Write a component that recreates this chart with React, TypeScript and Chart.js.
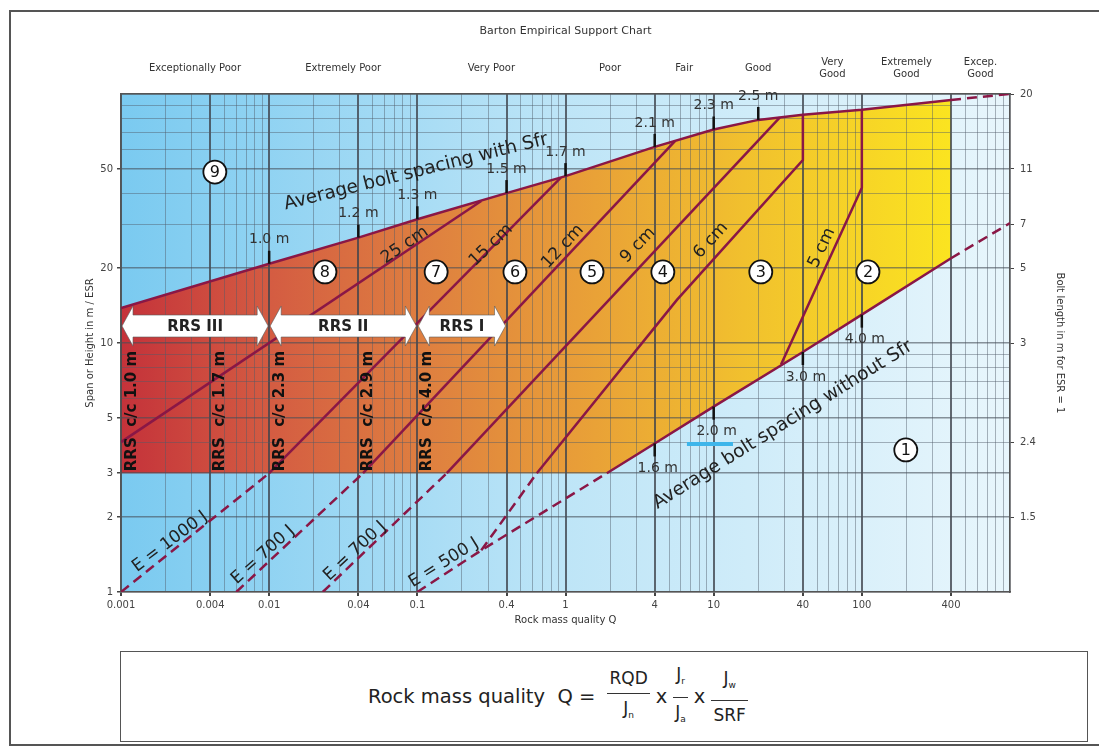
import React, { useEffect, useRef } from 'react';
import { Chart, registerables } from 'chart.js';

Chart.register(...registerables);

// ---------- axes ----------
const Q_MIN = 0.001;
const Q_MAX = 1000;
const SPAN_MIN = 1;
const SPAN_MAX = 100;

const Q_TICKS = [0.001, 0.004, 0.01, 0.04, 0.1, 0.4, 1, 4, 10, 40, 100, 400];
const Q_TICK_LABELS = ['0.001', '0.004', '0.01', '0.04', '0.1', '0.4', '1', '4', '10', '40', '100', '400'];
const SPAN_TICKS = [1, 2, 3, 5, 10, 20, 50];
const SPAN_TICK_LABELS = ['1', '2', '3', '5', '10', '20', '50'];
const BOLT_TICK_SPANS = [2, 4, 10, 20, 30, 50, 100];
const BOLT_TICK_LABELS = ['1.5', '2.4', '3', '5', '7', '11', '20'];
const CLASS_CENTERS = [0.00316, 0.0316, 0.316, 2, 6.32, 20, 63.2, 200, 632];
const CLASS_LABELS: (string | string[])[] = [
  'Exceptionally Poor', 'Extremely Poor', 'Very Poor', 'Poor', 'Fair', 'Good',
  ['Very', 'Good'], ['Extremely', 'Good'], ['Excep.', 'Good'],
];

// ---------- boundary lines ----------
const WITH_SFR_Q = [0.001, 0.01, 0.04, 0.1, 0.4, 1, 4, 10, 20, 40, 100, 400];
const WITH_SFR_SPAN = [13.8, 20.8, 26.5, 31.4, 40, 46.8, 61.3, 72, 78.7, 82.5, 86.5, 94.7];
const WITH_SFR_EXT_Q = [400, 1000];
const WITH_SFR_EXT_SPAN = [94.7, 100];
const WITH_SFR_TICK_Q = [0.01, 0.04, 0.1, 0.4, 1, 4, 10, 20];
const WITH_SFR_TICK_LABELS = ['1.0 m', '1.2 m', '1.3 m', '1.5 m', '1.7 m', '2.1 m', '2.3 m', '2.5 m'];

const WITHOUT_SFR_Q = [1.9, 4, 10, 40, 100, 400];
const WITHOUT_SFR_SPAN = [3, 3.95, 5.55, 9.2, 13.0, 21.9];
const WITHOUT_SFR_LOW_Q = [0.1, 0.27, 1.9];
const WITHOUT_SFR_LOW_SPAN = [1, 1.47, 3];
const WITHOUT_SFR_EXT_Q = [400, 1000];
const WITHOUT_SFR_EXT_SPAN = [21.9, 30.3];
const WITHOUT_SFR_TICK_Q = [4, 10, 40, 100];
const WITHOUT_SFR_TICK_LABELS = ['1.6 m', '2.0 m', '3.0 m', '4.0 m'];

const REGION_BASE_SPAN = 3;

// ---------- shotcrete / energy lines ----------
const SC25_Q = [0.001, 0.27];
const SC25_SPAN = [4, 37.2];
const SC15_Q = [0.01, 0.93];
const SC15_SPAN = [3, 46.2];
const SC12_Q = [0.043, 5.5];
const SC12_SPAN = [3, 64.8];
const SC9_Q = [0.158, 28];
const SC9_SPAN = [3, 80.5];
const SC6_Q = [0.64, 5.65, 40, 40];
const SC6_SPAN = [3, 14.9, 54.3, 82.5];
const SC5_Q = [28.5, 100, 100];
const SC5_SPAN = [8.2, 42, 86.5];
const E1000_Q = [0.001, 0.01];
const E1000_SPAN = [1, 3];
const E700A_Q = [0.006, 0.043];
const E700A_SPAN = [1, 3];
const E700B_Q = [0.023, 0.158];
const E700B_SPAN = [1, 3];
const E500_BRANCH_Q = [0.27, 0.64];
const E500_BRANCH_SPAN = [1.47, 3];
const BLUE_MARK_Q = [6.6, 13.5];
const BLUE_MARK_SPAN = [3.93, 3.93];

// ---------- annotations (data coordinates) ----------
const REGION_NUMBERS = ['1', '2', '3', '4', '5', '6', '7', '8', '9'];
const REGION_Q = [198, 110, 20.8, 4.54, 1.51, 0.456, 0.134, 0.0238, 0.0043];
const REGION_SPAN = [3.72, 19.3, 19.3, 19.3, 19.3, 19.3, 19.3, 19.3, 48.6];

const THICK_LABELS = ['25 cm', '15 cm', '12 cm', '9 cm', '6 cm', '5 cm'];
const THICK_Q = [0.0824, 0.314, 0.96, 3.08, 9.57, 53.7];
const THICK_SPAN = [24.7, 24.7, 24.4, 24.7, 25.8, 24.1];
const THICK_ANGLE = [-34, -44, -47, -46, -48, -65];

const ENERGY_LABELS = ['E = 1000 J', 'E = 700 J', 'E = 700 J', 'E = 500 J'];
const ENERGY_Q = [0.00214, 0.00908, 0.0379, 0.151];
const ENERGY_SPAN = [1.59, 1.41, 1.46, 1.31];
const ENERGY_ANGLE = [-37, -42, -43, -32];

const AVG_LABELS = ['Average bolt spacing with Sfr', 'Average bolt spacing without Sfr'];
const AVG_Q = [0.098, 29.3];
const AVG_SPAN = [48.6, 4.69];
const AVG_ANGLE = [-14, -32];

const RRS_CLASSES = ['RRS III', 'RRS II', 'RRS I'];
const RRS_FROM_Q = [0.001, 0.01, 0.1];
const RRS_TO_Q = [0.01, 0.1, 0.4];
const RRS_SPAN = 11.7;
const RRS_SPACING_LABELS = ['RRS  c/c 1.0 m', 'RRS  c/c 1.7 m', 'RRS  c/c 2.3 m', 'RRS  c/c 2.9 m', 'RRS  c/c 4.0 m'];
const RRS_SPACING_Q = [0.00119, 0.00466, 0.0118, 0.0465, 0.116];

// ---------- helpers ----------
const FONT = 'DejaVu Sans';
const MAROON = '#8a1746';

const pts = (qs: number[], ss: number[]) => qs.map((q, i) => ({ x: q, y: ss[i] }));
const findIdx = (v: number, arr: number[]) => arr.findIndex((a) => Math.abs(v / a - 1) < 1e-6);

const logGrid = (min: number, max: number) => {
  const out: number[] = [];
  const e0 = Math.round(Math.log10(min));
  const e1 = Math.round(Math.log10(max));
  for (let e = e0; e < e1; e++) {
    for (let m = 1; m < 10; m++) out.push(parseFloat((m * Math.pow(10, e)).toPrecision(6)));
  }
  out.push(max);
  return out;
};
const X_GRID = logGrid(Q_MIN, Q_MAX);
const Y_GRID = logGrid(SPAN_MIN, SPAN_MAX);

const lineDs = (label: string, qs: number[], ss: number[], dashed = false, color = MAROON, width = 2.5) => ({
  type: 'line' as const,
  label,
  data: pts(qs, ss),
  borderColor: color,
  borderWidth: width,
  borderDash: dashed ? [10, 6] : [],
  pointRadius: 0,
  fill: false,
  tension: 0,
  xAxisID: 'x',
  yAxisID: 'y',
});

const regionPolygon = () => [
  { x: Q_MIN, y: REGION_BASE_SPAN },
  ...pts(WITHOUT_SFR_Q, WITHOUT_SFR_SPAN),
  ...pts(WITH_SFR_Q, WITH_SFR_SPAN).reverse(),
];

function rotText(ctx: CanvasRenderingContext2D, text: string, px: number, py: number, angleDeg: number, font: string, color: string, align: CanvasTextAlign = 'center') {
  ctx.save();
  ctx.translate(px, py);
  ctx.rotate((angleDeg * Math.PI) / 180);
  ctx.font = font;
  ctx.fillStyle = color;
  ctx.textAlign = align;
  ctx.textBaseline = 'middle';
  ctx.fillText(text, 0, 0);
  ctx.restore();
}

const backgroundPlugin = {
  id: 'bartonBackground',
  beforeDraw(chart: any) {
    const { ctx, chartArea: a, scales } = chart;
    const x = scales.x;
    const y = scales.y;
    ctx.save();
    const g = ctx.createLinearGradient(a.left, 0, a.right, 0);
    g.addColorStop(0, 'rgb(122,202,240)');
    g.addColorStop(0.5, 'rgb(190,229,247)');
    g.addColorStop(1, 'rgb(232,246,252)');
    ctx.fillStyle = g;
    ctx.fillRect(a.left, a.top, a.width, a.height);

    const poly = regionPolygon();
    ctx.beginPath();
    poly.forEach((p, i) => {
      const px = x.getPixelForValue(p.x);
      const py = y.getPixelForValue(p.y);
      if (i === 0) ctx.moveTo(px, py);
      else ctx.lineTo(px, py);
    });
    ctx.closePath();
    const g2 = ctx.createLinearGradient(x.getPixelForValue(Q_MIN), 0, x.getPixelForValue(400), 0);
    g2.addColorStop(0, 'rgb(196,50,58)');
    g2.addColorStop(0.18, 'rgb(212,92,66)');
    g2.addColorStop(0.36, 'rgb(222,126,64)');
    g2.addColorStop(0.55, 'rgb(232,158,56)');
    g2.addColorStop(0.75, 'rgb(241,192,46)');
    g2.addColorStop(1, 'rgb(251,228,32)');
    ctx.fillStyle = g2;
    ctx.fill();
    ctx.restore();
  },
};

const overlayPlugin = {
  id: 'bartonOverlay',
  afterDatasetsDraw(chart: any) {
    const { ctx, scales } = chart;
    const x = scales.x;
    const y = scales.y;
    const X = (q: number) => x.getPixelForValue(q);
    const Y = (s: number) => y.getPixelForValue(s);
    ctx.save();

    // bolt spacing ticks on "with Sfr" line (upwards)
    ctx.strokeStyle = '#111';
    ctx.lineWidth = 2.5;
    WITH_SFR_TICK_Q.forEach((q, i) => {
      const s = WITH_SFR_SPAN[findIdx(q, WITH_SFR_Q)];
      const px = X(q);
      const py = Y(s);
      ctx.beginPath();
      ctx.moveTo(px, py);
      ctx.lineTo(px, py - 13);
      ctx.stroke();
      rotText(ctx, WITH_SFR_TICK_LABELS[i], px, py - 24, 0, `14px ${FONT}`, '#333');
    });
    // ticks on "without Sfr" line (downwards)
    WITHOUT_SFR_TICK_Q.forEach((q, i) => {
      const s = WITHOUT_SFR_SPAN[findIdx(q, WITHOUT_SFR_Q)];
      const px = X(q);
      const py = Y(s);
      ctx.beginPath();
      ctx.moveTo(px, py);
      ctx.lineTo(px, py + 13);
      ctx.stroke();
      rotText(ctx, WITHOUT_SFR_TICK_LABELS[i], px + 3, py + 25, 0, `14px ${FONT}`, '#333');
    });

    // shotcrete thickness labels
    THICK_LABELS.forEach((t, i) => rotText(ctx, t, X(THICK_Q[i]), Y(THICK_SPAN[i]), THICK_ANGLE[i], `17px ${FONT}`, '#222'));
    // energy labels
    ENERGY_LABELS.forEach((t, i) => rotText(ctx, t, X(ENERGY_Q[i]), Y(ENERGY_SPAN[i]), ENERGY_ANGLE[i], `17px ${FONT}`, '#222'));
    // average bolt spacing labels
    AVG_LABELS.forEach((t, i) => rotText(ctx, t, X(AVG_Q[i]), Y(AVG_SPAN[i]), AVG_ANGLE[i], `18.5px ${FONT}`, '#222'));

    // RRS spacing vertical labels
    RRS_SPACING_LABELS.forEach((t, i) => rotText(ctx, t, X(RRS_SPACING_Q[i]), Y(REGION_BASE_SPAN) - 2, -90, `bold 15px ${FONT}`, '#111', 'left'));

    // RRS arrows
    const yc = Y(RRS_SPAN);
    const bh = 11;
    const hh = 20;
    const hl = 11;
    RRS_CLASSES.forEach((t, i) => {
      const x0 = X(RRS_FROM_Q[i]) + 1;
      const x1 = X(RRS_TO_Q[i]) - 1;
      ctx.beginPath();
      ctx.moveTo(x0, yc);
      ctx.lineTo(x0 + hl, yc - hh);
      ctx.lineTo(x0 + hl, yc - bh);
      ctx.lineTo(x1 - hl, yc - bh);
      ctx.lineTo(x1 - hl, yc - hh);
      ctx.lineTo(x1, yc);
      ctx.lineTo(x1 - hl, yc + hh);
      ctx.lineTo(x1 - hl, yc + bh);
      ctx.lineTo(x0 + hl, yc + bh);
      ctx.lineTo(x0 + hl, yc + hh);
      ctx.closePath();
      ctx.fillStyle = '#ffffff';
      ctx.fill();
      ctx.lineWidth = 1;
      ctx.strokeStyle = 'rgba(90,90,90,0.6)';
      ctx.stroke();
      rotText(ctx, t, (x0 + x1) / 2, yc + 1, 0, `bold 15px ${FONT}`, '#222');
    });

    // region numbers
    REGION_NUMBERS.forEach((n, i) => {
      const px = X(REGION_Q[i]);
      const py = Y(REGION_SPAN[i]);
      ctx.beginPath();
      ctx.arc(px, py, 11.5, 0, Math.PI * 2);
      ctx.fillStyle = '#ffffff';
      ctx.fill();
      ctx.lineWidth = 1.8;
      ctx.strokeStyle = '#111';
      ctx.stroke();
      rotText(ctx, n, px, py + 1, 0, `16px ${FONT}`, '#111');
    });

    ctx.restore();
  },
};

const isMajor = (v: number, arr: number[]) => v !== undefined && findIdx(v, arr) >= 0;

export default function App() {
  const ref = useRef<HTMLCanvasElement>(null);

  useEffect(() => {
    const canvas = ref.current;
    if (!canvas) return;
    const datasets: any[] = [
      lineDs('with Sfr', WITH_SFR_Q, WITH_SFR_SPAN),
      lineDs('with Sfr ext', WITH_SFR_EXT_Q, WITH_SFR_EXT_SPAN, true),
      lineDs('without Sfr', WITHOUT_SFR_Q, WITHOUT_SFR_SPAN),
      lineDs('without Sfr low', WITHOUT_SFR_LOW_Q, WITHOUT_SFR_LOW_SPAN, true),
      lineDs('without Sfr ext', WITHOUT_SFR_EXT_Q, WITHOUT_SFR_EXT_SPAN, true),
      lineDs('25 cm', SC25_Q, SC25_SPAN),
      lineDs('15 cm', SC15_Q, SC15_SPAN),
      lineDs('12 cm', SC12_Q, SC12_SPAN),
      lineDs('9 cm', SC9_Q, SC9_SPAN),
      lineDs('6 cm', SC6_Q, SC6_SPAN),
      lineDs('5 cm', SC5_Q, SC5_SPAN),
      lineDs('E 1000', E1000_Q, E1000_SPAN, true),
      lineDs('E 700a', E700A_Q, E700A_SPAN, true),
      lineDs('E 700b', E700B_Q, E700B_SPAN, true),
      lineDs('E 500 branch', E500_BRANCH_Q, E500_BRANCH_SPAN, true),
      lineDs('mark', BLUE_MARK_Q, BLUE_MARK_SPAN, false, '#3db5ea', 4),
    ];

    const tickFont = { family: FONT, size: 10 };
    const chart = new Chart(canvas, {
      type: 'line',
      data: { datasets },
      plugins: [backgroundPlugin, overlayPlugin],
      options: {
        animation: false,
        responsive: false,
        maintainAspectRatio: false,
        parsing: false as any,
        normalized: true,
        events: [],
        layout: { padding: 0 },
        plugins: {
          legend: { display: false },
          tooltip: { enabled: false },
          title: {
            display: true,
            fullSize: false,
            text: 'Barton Empirical Support Chart',
            color: '#333',
            font: { family: FONT, size: 11, weight: 'normal' as any },
            padding: { top: 25, bottom: 0 },
          },
        },
        scales: {
          x: {
            type: 'logarithmic',
            position: 'bottom',
            min: Q_MIN,
            max: Q_MAX,
            afterBuildTicks: (s: any) => { s.ticks = X_GRID.map((v) => ({ value: v })); },
            afterFit: (s: any) => { s.height = 48; },
            ticks: {
              autoSkip: false, maxRotation: 0, minRotation: 0, padding: 3, color: '#444', font: tickFont,
              callback: (v: any) => { const i = findIdx(Number(v), Q_TICKS); return i >= 0 ? Q_TICK_LABELS[i] : ''; },
            },
            grid: {
              color: (c: any) => (isMajor(c.tick?.value, Q_TICKS) ? 'rgba(62,68,76,0.8)' : 'rgba(80,92,104,0.45)'),
              lineWidth: (c: any) => (isMajor(c.tick?.value, Q_TICKS) ? 2 : 1),
              tickLength: 4,
              tickColor: (c: any) => (isMajor(c.tick?.value, Q_TICKS) ? '#444' : 'rgba(0,0,0,0)'),
            },
            border: { display: true, color: '#555', width: 1.5 },
            title: { display: true, text: 'Rock mass quality Q', color: '#333', font: tickFont, padding: { top: 0, bottom: 14 } },
          },
          x2: {
            type: 'logarithmic',
            position: 'top',
            min: Q_MIN,
            max: Q_MAX,
            afterBuildTicks: (s: any) => { s.ticks = CLASS_CENTERS.map((v) => ({ value: v })); },
            afterFit: (s: any) => { s.height = 94 - 38.2; },
            ticks: {
              autoSkip: false, maxRotation: 0, minRotation: 0, padding: 20, color: '#333', font: tickFont,
              crossAlign: 'center',
              callback: (_v: any, i: number) => CLASS_LABELS[i] as any,
            },
            grid: { display: false, drawTicks: false },
            border: { display: true, color: '#555', width: 1.5 },
          },
          y: {
            type: 'logarithmic',
            position: 'left',
            min: SPAN_MIN,
            max: SPAN_MAX,
            afterBuildTicks: (s: any) => { s.ticks = Y_GRID.map((v) => ({ value: v })); },
            afterFit: (s: any) => { s.width = 121; },
            ticks: {
              autoSkip: false, padding: 4, color: '#444', font: tickFont,
              callback: (v: any) => { const i = findIdx(Number(v), SPAN_TICKS); return i >= 0 ? SPAN_TICK_LABELS[i] : ''; },
            },
            grid: {
              color: (c: any) => (isMajor(c.tick?.value, SPAN_TICKS) ? 'rgba(70,78,88,0.6)' : 'rgba(80,92,104,0.45)'),
              lineWidth: (c: any) => (isMajor(c.tick?.value, SPAN_TICKS) ? 1.5 : 1),
              tickLength: 4,
              tickColor: (c: any) => (isMajor(c.tick?.value, SPAN_TICKS) ? '#444' : 'rgba(0,0,0,0)'),
            },
            border: { display: true, color: '#555', width: 1.5 },
            title: { display: true, text: 'Span or Height in m / ESR', color: '#333', font: tickFont, padding: { top: 84, bottom: 0 } },
          },
          y2: {
            type: 'logarithmic',
            position: 'right',
            min: SPAN_MIN,
            max: SPAN_MAX,
            afterBuildTicks: (s: any) => { s.ticks = BOLT_TICK_SPANS.map((v) => ({ value: v })); },
            afterFit: (s: any) => { s.width = 89; },
            ticks: {
              autoSkip: false, padding: 6, color: '#444', font: tickFont,
              callback: (v: any) => { const i = findIdx(Number(v), BOLT_TICK_SPANS); return i >= 0 ? BOLT_TICK_LABELS[i] : ''; },
            },
            grid: { display: true, drawOnChartArea: false, tickLength: 4, tickColor: '#444' },
            border: { display: true, color: '#555', width: 1.5 },
            title: { display: true, text: 'Bolt length in m for ESR = 1', color: '#333', font: tickFont, padding: { top: 33, bottom: 0 } },
          },
        },
      } as any,
    });
    return () => chart.destroy();
  }, []);

  const J = (sub: string) => (
    <span>
      J<sub style={{ fontSize: 9, verticalAlign: 'sub' }}>{sub}</sub>
    </span>
  );
  const frac = (num: React.ReactNode, den: React.ReactNode) => (
    <span style={{ display: 'inline-flex', flexDirection: 'column', alignItems: 'center', margin: '0 6px', fontSize: 17 }}>
      <span style={{ padding: '0 2px 4px', lineHeight: '22px' }}>{num}</span>
      <span style={{ borderTop: '1.5px solid #333', alignSelf: 'stretch', textAlign: 'center', padding: '3px 2px 0', lineHeight: '22px' }}>{den}</span>
    </span>
  );

  return (
    <div style={{ position: 'absolute', left: 0, top: 0, width: 1099, height: 749, overflow: 'hidden', background: '#fff', fontFamily: FONT }}>
      <div style={{ position: 'absolute', left: 9, top: 10, width: 1110, height: 736, border: '2px solid #555', boxSizing: 'border-box' }} />
      <canvas ref={ref} width={1099} height={640} style={{ position: 'absolute', left: 0, top: 0, width: 1099, height: 640 }} />
      <div
        style={{
          position: 'absolute', left: 120, top: 651, width: 968, height: 91, border: '1.5px solid #555', boxSizing: 'border-box',
          display: 'flex', alignItems: 'center', paddingLeft: 247, color: '#222', fontSize: 19.5,
        }}
      >
        <span style={{ whiteSpace: 'pre' }}>Rock mass quality  Q = </span>
        {frac('RQD', J('n'))}
        <span>x</span>
        {frac(J('r'), J('a'))}
        <span>x</span>
        {frac(J('w'), 'SRF')}
      </div>
    </div>
  );
}
